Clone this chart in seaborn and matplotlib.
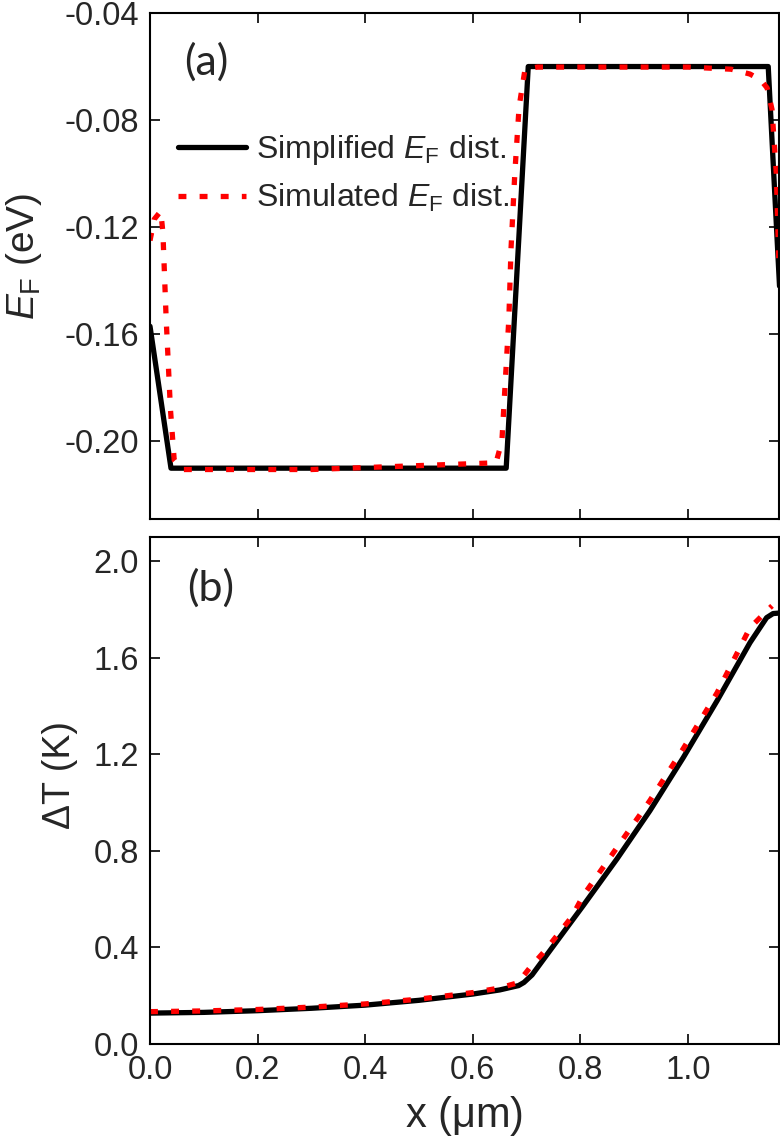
import numpy as np
import pandas as pd
import seaborn as sns
import matplotlib
matplotlib.use('Agg')
import matplotlib.pyplot as plt

# (a) Fermi level along the channel
x_simp = [0.0, 0.039, 0.662, 0.703, 1.149, 1.170]
ef_simp = [-0.157, -0.210, -0.210, -0.060, -0.060, -0.142]

x_sim = [0.0, 0.008, 0.020, 0.024, 0.030, 0.038, 0.045, 0.060, 0.300, 0.643,
         0.654, 0.667, 0.671, 0.678, 0.686, 0.697, 0.720, 1.000, 1.080, 1.115,
         1.135, 1.147, 1.156, 1.164, 1.169]
ef_sim = [-0.125, -0.117, -0.114, -0.122, -0.154, -0.188, -0.207, -0.2105, -0.2105, -0.208,
          -0.200, -0.154, -0.128, -0.100, -0.075, -0.061, -0.0602, -0.0602, -0.061, -0.0628,
          -0.065, -0.068, -0.076, -0.100, -0.135]

# (b) temperature rise
x_dt_simp = [0.0, 0.1, 0.2, 0.3, 0.4, 0.5, 0.6, 0.65, 0.685, 0.695, 0.71, 0.743,
             0.805, 0.868, 0.929, 0.991, 1.054, 1.115, 1.146, 1.158, 1.169]
dt_simp = [0.128, 0.131, 0.138, 0.148, 0.161, 0.181, 0.207, 0.224, 0.242, 0.255, 0.286, 0.386,
           0.573, 0.767, 0.966, 1.186, 1.422, 1.662, 1.766, 1.783, 1.785]

x_dt_sim = [0.0, 0.1, 0.2, 0.3, 0.4, 0.5, 0.6, 0.65, 0.684, 0.706, 0.734, 0.784,
            0.805, 0.868, 0.929, 0.991, 1.054, 1.115, 1.149, 1.156]
dt_sim = [0.134, 0.137, 0.143, 0.153, 0.166, 0.186, 0.213, 0.232, 0.254, 0.316, 0.386, 0.527,
          0.614, 0.814, 1.008, 1.223, 1.455, 1.724, 1.800, 1.815]

x_ticks = [0.0, 0.2, 0.4, 0.6, 0.8, 1.0]
ef_ticks = [-0.04, -0.08, -0.12, -0.16, -0.20]
dt_ticks = [0.0, 0.4, 0.8, 1.2, 1.6, 2.0]

sns.set_theme(style='ticks')
plt.rcParams['font.family'] = ['Liberation Sans', 'DejaVu Sans']
plt.rcParams['mathtext.fontset'] = 'custom'
plt.rcParams['mathtext.rm'] = 'Liberation Sans'
plt.rcParams['mathtext.it'] = 'Liberation Sans:italic'

fig = plt.figure(figsize=(7.8, 11.39), dpi=100)
ax1 = fig.add_axes([0.1923, 0.5443, 0.8064, 0.4443])
ax2 = fig.add_axes([0.1923, 0.0834, 0.8064, 0.4451])

dash = (0, (1.5, 2.5))
sns.lineplot(x=x_simp, y=ef_simp, ax=ax1, color='black', lw=3.8, sort=False,
             estimator=None, label=r'Simplified $E_{\rm F}$ dist.')
sns.lineplot(x=x_sim, y=ef_sim, ax=ax1, color='#ff0000', lw=3.8, sort=False,
             estimator=None, linestyle=dash, label=r'Simulated $E_{\rm F}$ dist.')
sns.lineplot(x=x_dt_simp, y=dt_simp, ax=ax2, color='black', lw=3.8, sort=False,
             estimator=None, legend=False)
sns.lineplot(x=x_dt_sim, y=dt_sim, ax=ax2, color='#ff0000', lw=3.8, sort=False,
             estimator=None, linestyle=dash, legend=False)

for ax in (ax1, ax2):
    ax.set_xlim(0, 1.169)
    ax.set_xticks(x_ticks)
    for s in ax.spines.values():
        s.set_visible(True)
        s.set_linewidth(1.5)
        s.set_color('black')
    ax.tick_params(direction='in', length=7, width=1.2, color='black',
                   top=True, right=True, labelsize=23.5, pad=8)

ax1.set_ylim(-0.229, -0.04)
ax1.set_yticks(ef_ticks)
ax1.set_yticklabels(['%.2f' % v for v in ef_ticks])
ax1.tick_params(labelbottom=False)
ax1.set_xlabel('')
ax1.set_ylabel(r'$E_{\rm F}$ (eV)', fontsize=28)
ax1.yaxis.set_label_coords(-0.168, 0.52)

ax2.set_ylim(0, 2.1)
ax2.set_yticks(dt_ticks)
ax2.set_yticklabels(['%.1f' % v for v in dt_ticks])
ax2.set_xticklabels(['%.1f' % v for v in x_ticks])
ax2.set_xlabel(r'x ($\mathrm{\mu}$m)', fontsize=30, labelpad=6)
ax2.set_ylabel('\u0394T (K)', fontsize=27)
ax2.yaxis.set_label_coords(-0.115, 0.53)

ax1.text(0.089, 0.903, '(a)', transform=ax1.transAxes, fontsize=31,
         family=['Lato', 'DejaVu Sans'], ha='center', va='center')
ax2.text(0.097, 0.899, '(b)', transform=ax2.transAxes, fontsize=31,
         family=['Lato', 'DejaVu Sans'], ha='center', va='center')

ax1.legend(loc='upper left', bbox_to_anchor=(0.044, 0.762), frameon=False,
           fontsize=23, handlelength=2.15, handletextpad=0.3, borderpad=0,
           borderaxespad=0, labelspacing=0.45)

fig.savefig('out.png', dpi=100)
